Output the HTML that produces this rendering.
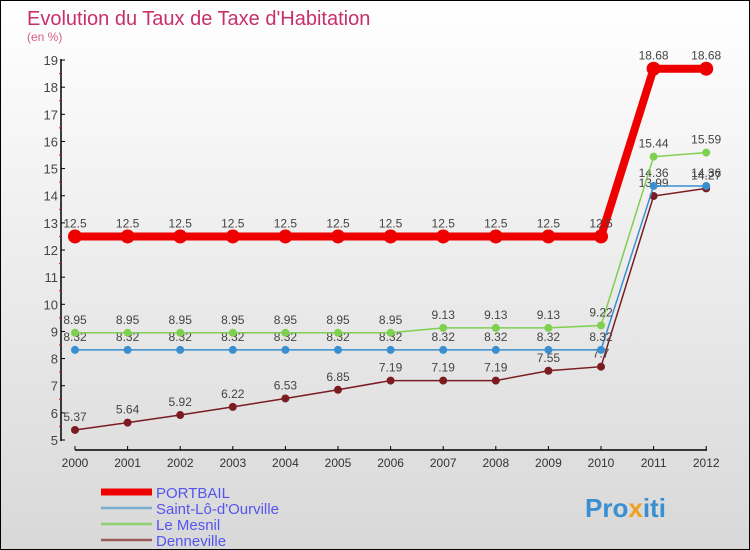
<!DOCTYPE html>
<html><head><meta charset="utf-8"><style>
body{margin:0}
#c{width:748px;height:548px;border:1px solid #000;background:linear-gradient(#fff,#d8d8d8);position:relative;overflow:hidden;font-family:"Liberation Sans",sans-serif}
</style></head><body>
<div id="c">
<svg id="s" width="748" height="548"></svg>
</div>
<script>
const years=[2000,2001,2002,2003,2004,2005,2006,2007,2008,2009,2010,2011,2012];
const portbail=[12.5,12.5,12.5,12.5,12.5,12.5,12.5,12.5,12.5,12.5,12.5,18.68,18.68];
const saintlo=[8.32,8.32,8.32,8.32,8.32,8.32,8.32,8.32,8.32,8.32,8.32,14.36,14.36];
const mesnil=[8.95,8.95,8.95,8.95,8.95,8.95,8.95,9.13,9.13,9.13,9.22,15.44,15.59];
const denne=[5.37,5.64,5.92,6.22,6.53,6.85,7.19,7.19,7.19,7.55,7.7,13.99,14.27];
const yTicks=[5,6,7,8,9,10,11,12,13,14,15,16,17,18,19];
const NS="http://www.w3.org/2000/svg";
const s=document.getElementById('s');
const X=i=>74+i*52.6, Y=v=>439-(v-5)*27.14;
function el(t,a,txt){const e=document.createElementNS(NS,t);for(const k in a)e.setAttribute(k,a[k]);if(txt!==undefined)e.textContent=txt;s.appendChild(e);return e;}
let e;
e=el('text',{x:26,y:24,'font-size':20,fill:'#c8306a'},"Evolution du Taux de Taxe d'Habitation");

e=el('text',{x:26,y:40,'font-size':12,fill:'#d0608a'},"(en %)");

e=el('line',{x1:60,y1:58,x2:60,y2:440,stroke:'#000','stroke-width':1.5});

e=el('line',{x1:74,y1:449,x2:706,y2:449,stroke:'#000','stroke-width':1.5});

yTicks.forEach(v=>{
 el('line',{x1:60,y1:Y(v),x2:64,y2:Y(v),stroke:'#000'});
 if(v<19)el('line',{x1:58,y1:Y(v+0.5),x2:60,y2:Y(v+0.5),stroke:'#f00'});
 e=el('text',{x:57,y:Y(v)+5,'font-size':13,fill:'#444','text-anchor':'end'},v);
 
});
years.forEach((y,i)=>{
 el('line',{x1:X(i),y1:445,x2:X(i),y2:449,stroke:'#000'});
 e=el('text',{x:X(i),y:466,'font-size':12,fill:'#333','text-anchor':'middle'},y);
 
});
function series(d,col,w,r,name){
 e=el('polyline',{points:d.map((v,i)=>X(i)+','+Y(v)).join(' '),fill:'none',stroke:col,'stroke-width':w});
 
 d.forEach((v,i)=>{
  e=el('circle',{cx:X(i),cy:Y(v),r:r,fill:col});
  
  e=el('text',{x:X(i),y:Y(v)-9,'font-size':12,fill:'#444','text-anchor':'middle'},v);
  
 });
}
series(denne,'#7a1c22',1.5,4,'denneville');
series(saintlo,'#3a8fd0',1.5,4,'saint-lo');
series(mesnil,'#7fd050',1.5,4,'le-mesnil');
series(portbail,'#ee0000',8,7,'portbail');
const leg=[['PORTBAIL','#ee0000',7],["Saint-Lô-d'Ourville",'#7aaed0',2.5],['Le Mesnil','#90d070',2.5],['Denneville','#9a5a5a',2.5]];
leg.forEach((l,i)=>{
 const y=491+i*16;
 e=el('line',{x1:100,y1:y,x2:151,y2:y,stroke:l[1],'stroke-width':l[2]});
 
 e=el('text',{x:155,y:y+6,'font-size':15,fill:'#5555ee'},l[0]);
 
});
e=el('text',{x:584,y:516,'font-size':26,'font-weight':'bold',fill:'#3a8fd0'});

e.innerHTML='Pro<tspan fill="#f0a020">x</tspan>iti';
</script>
</body></html>
